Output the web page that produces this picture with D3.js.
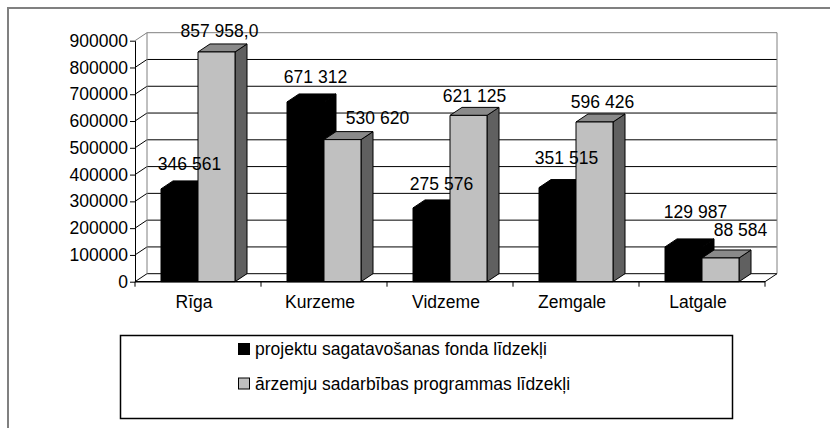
<!DOCTYPE html>
<html>
<head>
<meta charset="utf-8">
<script src="https://cdn.jsdelivr.net/npm/d3@7"></script>
<style>
  body { margin: 0; background: #fff; }
  svg text { font-family: "Liberation Sans", Arial, sans-serif; fill: #000; }
</style>
</head>
<body>
<div id="chart-container"></div>
<script>
// data
const categories = ["Rīga", "Kurzeme", "Vidzeme", "Zemgale", "Latgale"];
const seriesNames = ["projektu sagatavošanas fonda līdzekļi", "ārzemju sadarbības programmas līdzekļi"];
const fondaValues = [346561, 671312, 275576, 351515, 129987];
const programmasValues = [857958, 530620, 621125, 596426, 88584];
const fondaLabels = ["346 561", "671 312", "275 576", "351 515", "129 987"];
const programmasLabels = ["857 958,0", "530 620", "621 125", "596 426", "88 584"];
const yTickValues = [0, 100000, 200000, 300000, 400000, 500000, 600000, 700000, 800000, 900000];

// layout
const width = 830, height = 428;
const plot = {left: 135, right: 765, top: 40.7, bottom: 281.7};
const depth = {dx: 12, dy: 8};
const fontSize = "17.5px";
const fills = [
  {front: "#000", top: "#000", side: "#000"},
  {front: "#c0c0c0", top: "#8a8a8a", side: "#606060"}
];
// small label nudges (dx, dy) like Excel's own placement
const labelNudge = [
  [[10, 11], [10, 11], [10, 10], [9, 16], [12, 21]],
  [[3, 7], [35, 8], [6, 5], [8, 6], [20, 14]]
];

const svg = d3.select("#chart-container")
  .append("svg")
    .attr("width", width)
    .attr("height", height);

// outer frame
svg.append("path")
  .attr("d", `M8,${height + 5} V8 H${width + 5}`)
  .attr("fill", "none")
  .attr("stroke", "#808080")
  .attr("stroke-width", 2);

const x = d3.scaleBand().domain(categories).range([plot.left, plot.right]);
const xs = d3.scaleBand().domain([0, 1]).range([26, 100]);
const y = d3.scaleLinear().domain([0, 900000]).range([plot.bottom, plot.top]);

// back wall + floor
const g = svg.append("g");
g.append("rect")
  .attr("x", plot.left + depth.dx).attr("y", y(900000) - depth.dy)
  .attr("width", plot.right - plot.left).attr("height", y(0) - y(900000))
  .attr("fill", "#fff");

yTickValues.forEach(v => {
  const yy = y(v);
  const isTop = v === 900000;
  g.append("line")
    .attr("x1", plot.left + depth.dx).attr("x2", plot.right + depth.dx)
    .attr("y1", yy - depth.dy).attr("y2", yy - depth.dy)
    .attr("stroke", isTop ? "#808080" : "#000");
  g.append("line")
    .attr("x1", plot.left).attr("x2", plot.left + depth.dx)
    .attr("y1", yy).attr("y2", yy - depth.dy)
    .attr("stroke", isTop ? "#808080" : "#000");
});
// wall edges
g.append("line")
  .attr("x1", plot.left + depth.dx).attr("x2", plot.left + depth.dx)
  .attr("y1", y(900000) - depth.dy).attr("y2", y(0) - depth.dy)
  .attr("stroke", "#808080");
g.append("line")
  .attr("x1", plot.right + depth.dx).attr("x2", plot.right + depth.dx)
  .attr("y1", y(900000) - depth.dy).attr("y2", y(0) - depth.dy)
  .attr("stroke", "#808080");
// floor front edge + right diagonal
g.append("line")
  .attr("x1", plot.right).attr("x2", plot.right + depth.dx)
  .attr("y1", y(0)).attr("y2", y(0) - depth.dy)
  .attr("stroke", "#000");

// bars
const values = [fondaValues, programmasValues];
const bars = svg.append("g").attr("stroke", "#000").attr("stroke-width", 1).attr("stroke-linejoin", "round");
categories.forEach((c, i) => {
  [0, 1].forEach(s => {
    const x0 = x(c) + xs(s), w = xs.bandwidth();
    const y0 = y(values[s][i]), yb = y(0);
    const f = fills[s];
    bars.append("path")
      .attr("d", `M${x0 + w},${yb} L${x0 + w + depth.dx},${yb - depth.dy} L${x0 + w + depth.dx},${y0 - depth.dy} L${x0 + w},${y0} Z`)
      .attr("fill", f.side);
    bars.append("path")
      .attr("d", `M${x0},${y0} L${x0 + depth.dx},${y0 - depth.dy} L${x0 + w + depth.dx},${y0 - depth.dy} L${x0 + w},${y0} Z`)
      .attr("fill", f.top);
    bars.append("rect")
      .attr("x", x0).attr("y", y0)
      .attr("width", w).attr("height", yb - y0)
      .attr("fill", f.front);
  });
});

// y axis
svg.append("g")
  .attr("transform", `translate(${plot.left},0)`)
  .call(d3.axisLeft(y).tickValues(yTickValues).tickFormat(d3.format("d")).tickSize(5).tickSizeOuter(0).tickPadding(2))
  .call(a => a.selectAll("text").style("font-size", fontSize).attr("fill", "#000"))
  .call(a => a.selectAll("line,path").attr("stroke", "#000"))
  .attr("font-family", null);

// x axis line + boundary ticks
const xa = svg.append("g");
xa.append("line")
  .attr("x1", plot.left).attr("x2", plot.right)
  .attr("y1", y(0)).attr("y2", y(0))
  .attr("stroke", "#000").attr("stroke-width", 1.5);
categories.concat([null]).forEach((c, i) => {
  const xx = c ? x(c) : plot.right;
  xa.append("line")
    .attr("x1", xx).attr("x2", xx)
    .attr("y1", y(0)).attr("y2", y(0) + 5)
    .attr("stroke", "#000");
});
svg.append("g")
  .attr("transform", `translate(-4,${y(0)})`)
  .call(d3.axisBottom(x).tickSize(0).tickPadding(13.6))
  .call(a => a.select(".domain").remove())
  .call(a => a.selectAll("text").style("font-size", fontSize).attr("fill", "#000"))
  .attr("font-family", null);

// value labels
const labels = [fondaLabels, programmasLabels];
const lg = svg.append("g").style("font-size", fontSize).attr("text-anchor", "middle");
categories.forEach((c, i) => {
  [0, 1].forEach(s => {
    const cx = x(c) + xs(s) + xs.bandwidth() / 2;
    const n = labelNudge[s][i];
    lg.append("text")
      .attr("x", cx + n[0])
      .attr("y", y(values[s][i]) - depth.dy - n[1])
      .text(labels[s][i]);
  });
});

// legend
const legend = svg.append("g");
legend.append("rect")
  .attr("x", 120.5).attr("y", 335.5)
  .attr("width", 612).attr("height", 83)
  .attr("fill", "#fff").attr("stroke", "#000").attr("stroke-width", 1.5);
seriesNames.forEach((name, s) => {
  const ly = 355 + s * 34.5;
  legend.append("rect")
    .attr("x", 238.5).attr("y", ly - 11.5)
    .attr("width", 11).attr("height", 11)
    .attr("fill", fills[s].front).attr("stroke", "#000");
  legend.append("text")
    .attr("x", 255).attr("y", ly)
    .style("font-size", fontSize)
    .text(name);
});
</script>
</body>
</html>
